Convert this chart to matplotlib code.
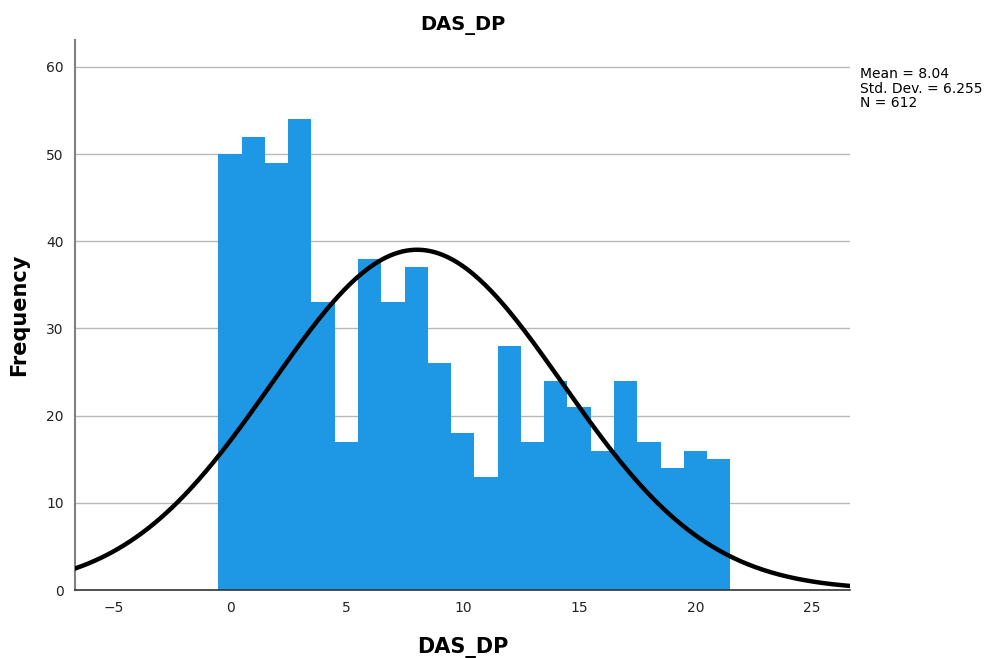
import numpy as np
import matplotlib.pyplot as plt

# Histogram counts for DAS_DP, one bin per integer score
scores = np.arange(0, 22)
counts = [50, 52, 49, 54, 33, 17, 38, 33, 37, 26, 18, 13,
          28, 17, 24, 21, 16, 24, 17, 14, 16, 15]
mean = 8.04
std = 6.255
n = 612

fig = plt.figure(figsize=(9.87, 6.58), dpi=100)
ax = fig.add_axes([0.076, 0.1033, 0.785, 0.836])

ax.bar(scores, counts, width=1.0, color='#1e98e4', edgecolor='none', zorder=2)

# Normal curve scaled to the histogram (bin width 1)
x = np.linspace(-7, 27, 400)
y = n * np.exp(-0.5 * ((x - mean) / std) ** 2) / (std * np.sqrt(2 * np.pi))
ax.plot(x, y, color='black', linewidth=3.2, zorder=3)

ax.set_xlim(-6.66, 26.63)
ax.set_ylim(0, 63.1)
ax.set_xticks([-5, 0, 5, 10, 15, 20, 25])
ax.set_xticklabels(['\u22125', '0', '5', '10', '15', '20', '25'])
ax.set_yticks([0, 10, 20, 30, 40, 50, 60])
ax.tick_params(length=0, labelsize=10, colors='#222222', pad=8)
ax.yaxis.grid(True, color='#b8b8b8', linewidth=1.0, zorder=1)
ax.set_axisbelow(True)

for side in ['top', 'right']:
    ax.spines[side].set_visible(False)
ax.spines['left'].set_color('#808080')
ax.spines['left'].set_linewidth(1.5)
ax.spines['bottom'].set_color('#333333')
ax.spines['bottom'].set_linewidth(1.2)

ax.set_title('DAS_DP', fontsize=14, fontweight='bold', pad=7)
ax.set_xlabel('DAS_DP', fontsize=15, fontweight='bold', labelpad=16)
ax.set_ylabel('Frequency', fontsize=15, fontweight='bold', labelpad=12)

fig.text(0.871, 0.898, 'Mean = 8.04\nStd. Dev. = 6.255\nN = 612',
         fontsize=10, va='top', ha='left', linespacing=1.05)

fig.savefig('out.png', dpi=100)
